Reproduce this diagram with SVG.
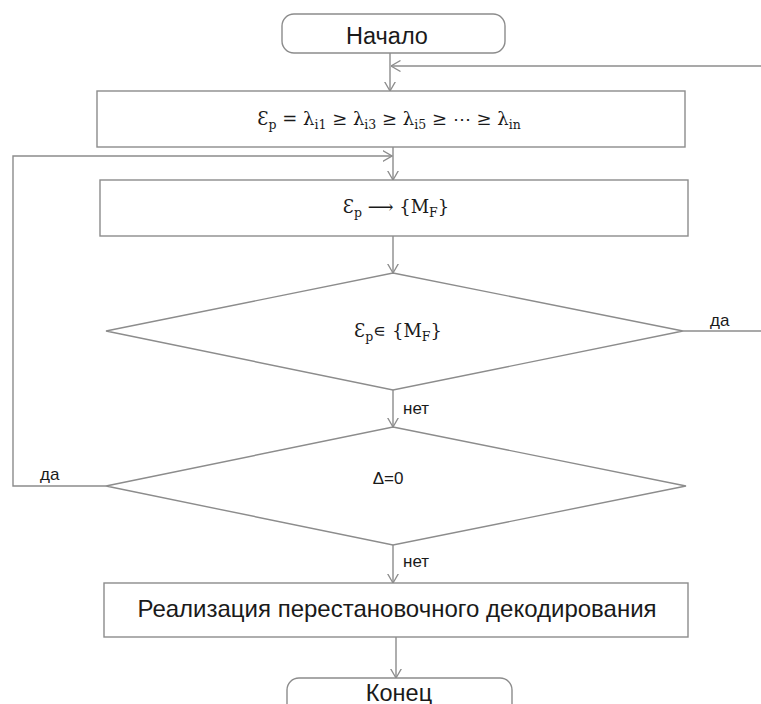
<svg xmlns="http://www.w3.org/2000/svg" width="761" height="704" viewBox="0 0 761 704">
<style>
.shape{fill:#fff;stroke:#8c8c8c;stroke-width:1.4}
.line{fill:none;stroke:#8c8c8c;stroke-width:1.4}
.sans{font-family:"Liberation Sans",Arial,sans-serif;fill:#1a1a1a}
.math{font-family:"DejaVu Serif","Liberation Serif",serif;fill:#1a1a1a;font-size:18px}
.sub{font-size:12.5px}
.lbl{font-family:"Liberation Sans",Arial,sans-serif;fill:#1a1a1a;font-size:17px}
</style>
<defs>
<marker id="arr" markerUnits="userSpaceOnUse" markerWidth="10" markerHeight="12" viewBox="0 0 10 12" refX="9.5" refY="6" orient="auto">
<path d="M0,0.5 L9.5,6 L0,11.5" fill="none" stroke="#8c8c8c" stroke-width="1.3"/>
</marker>
</defs>
<rect width="761" height="704" fill="#fff"/>
<g id="connectors">
<path class="line" d="M390,53 L390,91" marker-end="url(#arr)"/>
<path class="line" d="M761,66 L391,66" marker-end="url(#arr)"/>
<path class="line" d="M393,147 L393,180" marker-end="url(#arr)"/>
<path class="line" d="M106,486 L13,486 L13,156 L392,156" marker-end="url(#arr)"/>
<path class="line" d="M393,236 L393,273" marker-end="url(#arr)"/>
<path class="line" d="M683,331 L761,331"/>
<path class="line" d="M393,390 L393,427" marker-end="url(#arr)"/>
<path class="line" d="M393,545 L393,583" marker-end="url(#arr)"/>
<path class="line" d="M396,637 L396,678" marker-end="url(#arr)"/>
<text class="lbl" x="710" y="326">да</text>
<text class="lbl" x="403" y="414">нет</text>
<text class="lbl" x="40" y="480">да</text>
<text class="lbl" x="403" y="567">нет</text>
</g>
<g id="start">
<rect class="shape" x="282" y="14" width="223" height="39" rx="12"/>
<text class="sans" x="387" y="44" font-size="23.5" text-anchor="middle">Начало</text>
</g>
<g id="sort">
<rect class="shape" x="97" y="91" width="588" height="56"/>
<text class="math" x="389" y="125" text-anchor="middle" font-size="19">Ɛ<tspan class="sub" dy="4">p</tspan><tspan dy="-4"> = λ</tspan><tspan class="sub" dy="4">i1</tspan><tspan dy="-4"> ≥ λ</tspan><tspan class="sub" dy="4">i3</tspan><tspan dy="-4"> ≥ λ</tspan><tspan class="sub" dy="4">i5</tspan><tspan dy="-4"> ≥ ⋯ ≥ λ</tspan><tspan class="sub" dy="4">in</tspan></text>
</g>
<g id="map">
<rect class="shape" x="100" y="180" width="588" height="56"/>
<text class="math" x="396" y="213" text-anchor="middle">Ɛ<tspan class="sub" dy="4">p</tspan><tspan dy="-4"> ⟶ {M</tspan><tspan class="sub" dy="4">F</tspan><tspan dy="-4">}</tspan></text>
</g>
<g id="check1">
<polygon class="shape" points="393,273 683,331 393,390 106,331"/>
<text class="math" x="398" y="337" text-anchor="middle">Ɛ<tspan class="sub" dy="4">p</tspan><tspan dy="-4">∊ {M</tspan><tspan class="sub" dy="4">F</tspan><tspan dy="-4">}</tspan></text>
</g>
<g id="check2">
<polygon class="shape" points="393,427 686,486 393,545 106,486"/>
<text class="sans" x="388" y="484" font-size="17" text-anchor="middle">Δ=0</text>
</g>
<g id="decode">
<rect class="shape" x="104" y="583" width="584" height="54"/>
<text class="sans" x="397" y="617" font-size="24" text-anchor="middle">Реализация перестановочного декодирования</text>
</g>
<g id="end">
<rect class="shape" x="287" y="678" width="225" height="40" rx="12"/>
<text class="sans" x="399" y="701" font-size="23.5" text-anchor="middle">Конец</text>
</g>
</svg>
